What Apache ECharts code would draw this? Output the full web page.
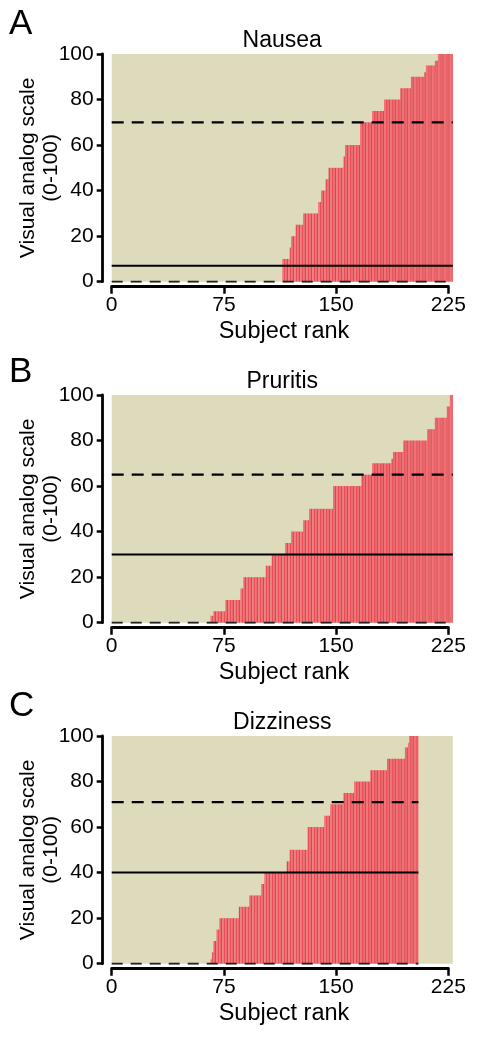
<!DOCTYPE html>
<html>
<head>
<meta charset="utf-8">
<script src="https://cdn.jsdelivr.net/npm/echarts@6/dist/echarts.min.js"></script>
<style>
html,body{margin:0;padding:0;background:#fff;}
#chart{width:477px;height:1039px;}
</style>
</head>
<body>
<div id="chart"></div>
<script>
// ---------------- data ----------------
const panelLetters = ['A', 'B', 'C'];
const panelTitles = ['Nausea', 'Pruritis', 'Dizziness'];
const subjectTicks = [0, 75, 150, 225];
const vasTicks = [0, 20, 40, 60, 80, 100];
const rankMax = 228;

// sorted VAS values as runs: level value and number of subjects at that level
const nauseaLevels = [0, 10, 15, 20, 25, 30, 35, 40, 45, 50, 55, 60, 70, 75, 80, 85, 90, 92, 95, 97, 100];
const nauseaCounts = [114, 5, 1, 3, 5, 10, 2, 3, 2, 10, 1, 10, 8, 8, 11, 7, 9, 1, 6, 2, 10];

const pruritisLevels = [0, 3, 5, 10, 15, 20, 25, 30, 35, 40, 45, 50, 60, 65, 70, 72, 75, 80, 85, 90, 95, 100];
const pruritisCounts = [66, 2, 8, 10, 2, 15, 4, 9, 4, 8, 4, 16, 19, 7, 13, 1, 7, 16, 5, 8, 2, 2];

const dizzinessLevels = [0, 2, 5, 10, 15, 20, 25, 30, 35, 40, 45, 50, 60, 65, 70, 75, 80, 85, 90, 95, 97, 100];
const dizzinessCounts = [66, 1, 1, 2, 2, 13, 7, 8, 2, 15, 2, 12, 11, 4, 9, 7, 11, 11, 12, 2, 1, 6];

// reference lines: [dashed upper, solid]
const nauseaRefLines = [70, 7];
const pruritisRefLines = [65, 30];
const dizzinessRefLines = [71, 40];

// ---------------- build ----------------
function expandRuns(levels, counts) {
  const out = [];
  levels.forEach((v, i) => { for (let k = 0; k < counts[i]; k++) out.push(v); });
  return out;
}
const panels = [
  { values: expandRuns(nauseaLevels, nauseaCounts), ref: nauseaRefLines },
  { values: expandRuns(pruritisLevels, pruritisCounts), ref: pruritisRefLines },
  { values: expandRuns(dizzinessLevels, dizzinessCounts), ref: dizzinessRefLines }
];
const categories = [];
for (let i = 1; i <= rankMax; i++) categories.push(String(i));

const FONT = '"Liberation Sans", Arial, Helvetica, sans-serif';
const plotLeft = 111.7, plotWidth = 341.1, plotHeight = 227.7;
const tickWidth = plotWidth * subjectTicks[subjectTicks.length - 1] / rankMax;
const tops = [54, 395, 736];
const letterY = [25, 373, 707];
const stripeColors = ['#F0616A', '#E5404C', '#F2727A', '#E94D58'];

const grid = [], xAxis = [], yAxis = [], series = [], graphic = [];

panels.forEach((p, k) => {
  const T = tops[k];
  const n = p.values.length;
  grid.push({ left: plotLeft, top: T, width: plotWidth, height: plotHeight,
    show: true, backgroundColor: '#DDDBBC', borderWidth: 0 });
  grid.push({ left: plotLeft, top: T, width: tickWidth, height: plotHeight,
    show: false, borderWidth: 0 });
  const g0 = 2 * k, g1 = 2 * k + 1;
  const xc = xAxis.length;
  xAxis.push({ type: 'category', gridIndex: g0, data: categories, show: false, boundaryGap: true });
  xAxis.push({ type: 'value', gridIndex: g0, min: 0, max: rankMax, show: false });
  xAxis.push({ type: 'value', gridIndex: g1, min: 0, max: subjectTicks[subjectTicks.length - 1],
    interval: subjectTicks[1] - subjectTicks[0], position: 'bottom', offset: 5,
    splitLine: { show: false },
    axisLine: { show: true, onZero: false, lineStyle: { color: '#000', width: 2.8 } },
    axisTick: { show: true, length: 7, lineStyle: { color: '#000', width: 2.5 } },
    axisLabel: { color: '#000', fontSize: 21, fontFamily: FONT, margin: 8 } });
  const yc = yAxis.length;
  yAxis.push({ type: 'value', gridIndex: g0, min: vasTicks[0], max: vasTicks[vasTicks.length - 1],
    interval: vasTicks[1] - vasTicks[0], position: 'left', offset: 9,
    splitLine: { show: false },
    axisLine: { show: true, onZero: false, lineStyle: { color: '#000', width: 2.8 } },
    axisTick: { show: true, length: 6, lineStyle: { color: '#000', width: 2.5 } },
    axisLabel: { color: '#000', fontSize: 21, fontFamily: FONT, margin: 9 } });
  yAxis.push({ type: 'value', gridIndex: g1, min: 0, max: 100, show: false });

  series.push({ type: 'bar', xAxisIndex: xc, yAxisIndex: yc, data: p.values,
    barCategoryGap: '0%', barGap: '0%',
    itemStyle: { color: (params) => stripeColors[params.dataIndex % stripeColors.length] },
    silent: true, z: 2 });
  const lineSpec = [
    { y: 0, type: [11, 8], color: '#222', w: 2 },
    { y: p.ref[0], type: [12, 8], color: '#000', w: 2.2 },
    { y: p.ref[1], type: 'solid', color: '#000', w: 2 }
  ];
  lineSpec.forEach(ls => {
    series.push({ type: 'line', xAxisIndex: xc + 1, yAxisIndex: yc,
      data: [[0, ls.y], [n, ls.y]], symbol: 'none', silent: true, z: 5,
      lineStyle: { color: ls.color, width: ls.w, type: ls.type } });
  });

  graphic.push({ type: 'text', left: 9, top: letterY[k] - 18,
    style: { text: panelLetters[k], font: '35px ' + FONT, fill: '#000' } });
  graphic.push({ type: 'text', x: plotLeft + plotWidth / 2, y: T - 13,
    style: { text: panelTitles[k], font: '23px ' + FONT, fill: '#000', align: 'center', verticalAlign: 'middle' } });
  graphic.push({ type: 'text', x: 284, y: T + 278,
    style: { text: 'Subject rank', font: '23.5px ' + FONT, fill: '#000', align: 'center', verticalAlign: 'middle' } });
  graphic.push({ type: 'text', x: 28, y: T + plotHeight / 2, rotation: Math.PI / 2,
    style: { text: 'Visual analog scale', font: '21px ' + FONT, fill: '#000', align: 'center', verticalAlign: 'middle' } });
  graphic.push({ type: 'text', x: 51, y: T + plotHeight / 2, rotation: Math.PI / 2,
    style: { text: '(0-100)', font: '21px ' + FONT, fill: '#000', align: 'center', verticalAlign: 'middle' } });
});

const chart = echarts.init(document.getElementById('chart'), null, { renderer: 'canvas' });
chart.setOption({
  animation: false,
  backgroundColor: '#fff',
  grid, xAxis, yAxis, series, graphic
});
</script>
</body>
</html>
